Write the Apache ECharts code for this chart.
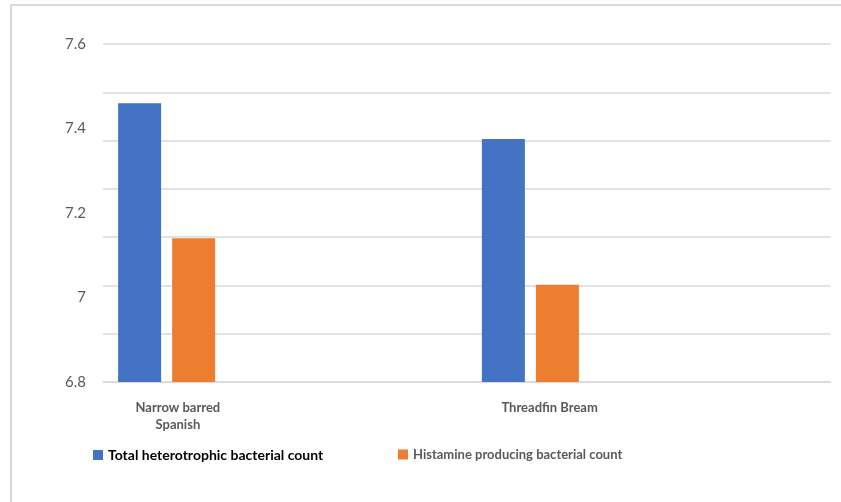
<!DOCTYPE html>
<html>
<head>
<meta charset="utf-8">
<script src="https://cdn.jsdelivr.net/npm/echarts@6/dist/echarts.min.js"></script>
<style>
  html, body { margin: 0; padding: 0; background: #ffffff; }
  #chart { width: 841px; height: 502px; }
</style>
</head>
<body>
<div id="chart"></div>
<script>
// Bacterial counts per fish species (log CFU/g)
const categories = ['Narrow barred\nSpanish', 'Threadfin Bream'];
const totalHeterotrophic = [7.46, 7.375];
const histamineProducing = [7.14, 7.03];
const seriesNames = ['Total heterotrophic bacterial count', 'Histamine producing bacterial count'];
const yMin = 6.8;
const yMax = 7.6;
const yStep = 0.2;
// Horizontal rule bands drawn behind the bars
const ruleBands = 7;

const FONT = 'Lato, "Liberation Sans", sans-serif';
const GRID_COLOR = '#d9d9d9';

const chart = echarts.init(document.getElementById('chart'), null, { renderer: 'canvas' });

chart.setOption({
  backgroundColor: '#ffffff',
  animation: false,
  grid: { left: 103, right: 10.5, top: 44, bottom: 120, containLabel: false },
  graphic: [
    { type: 'polyline', silent: true,
      shape: { points: [[842, 5], [11, 5], [11, 503]] },
      style: { stroke: GRID_COLOR, lineWidth: 2, fill: null } }
  ],
  legend: [
    {
      data: [seriesNames[0]],
      left: 88, top: 443,
      icon: 'rect', itemWidth: 10, itemHeight: 10, itemGap: 0,
      textStyle: { fontFamily: FONT, fontSize: 14, fontWeight: 'bold', color: '#000000', padding: [4, 0, 0, 0] }
    },
    {
      data: [seriesNames[1]],
      left: 393, top: 443,
      icon: 'rect', itemWidth: 10, itemHeight: 10, itemGap: 0,
      textStyle: { fontFamily: FONT, fontSize: 13, fontWeight: 'bold', color: '#595959', padding: [7, 0, 0, 0] }
    }
  ],
  xAxis: {
    type: 'category',
    data: categories,
    axisTick: { show: false },
    axisLine: { show: true, lineStyle: { color: GRID_COLOR, width: 1.5 } },
    axisLabel: {
      margin: 17,
      formatter: function (value, index) {
        const key = index === 0 ? 'a' : 'b';
        return value.split('\n').map(function (line) { return '{' + key + '|' + line + '}'; }).join('\n');
      },
      rich: {
        a: { fontFamily: FONT, fontSize: 13, fontWeight: 'bold', color: '#595959', lineHeight: 17, padding: [0, 214, 0, 0] },
        b: { fontFamily: FONT, fontSize: 13, fontWeight: 'bold', color: '#595959', lineHeight: 17, padding: [0, 198, 0, 0] }
      }
    }
  },
  yAxis: [
    {
      type: 'value',
      min: yMin, max: yMax, interval: yStep,
      axisLine: { show: false },
      axisTick: { show: false },
      splitLine: { show: false },
      axisLabel: {
        margin: 17,
        fontFamily: FONT, fontSize: 15, color: '#595959',
        formatter: function (v) { return String(Math.round(v * 10) / 10); }
      }
    },
    {
      type: 'value',
      position: 'left',
      min: 0, max: ruleBands, interval: 1,
      axisLine: { show: false },
      axisTick: { show: false },
      axisLabel: { show: false },
      splitLine: { show: true, lineStyle: { color: GRID_COLOR, width: 1.5 } }
    }
  ],
  series: [
    {
      name: seriesNames[0],
      type: 'bar',
      yAxisIndex: 0,
      data: totalHeterotrophic,
      barWidth: 43,
      barGap: '25.6%',
      itemStyle: { color: '#4472c4' }
    },
    {
      name: seriesNames[1],
      type: 'bar',
      yAxisIndex: 0,
      data: histamineProducing,
      barWidth: 43,
      barGap: '25.6%',
      itemStyle: { color: '#ed7d31' }
    },
    {
      // empty slot that keeps each pair toward the left of its category
      name: 'spacer',
      type: 'bar',
      yAxisIndex: 0,
      data: [null, null],
      barWidth: 225.5,
      silent: true,
      itemStyle: { color: 'transparent' }
    }
  ]
});
</script>
</body>
</html>
